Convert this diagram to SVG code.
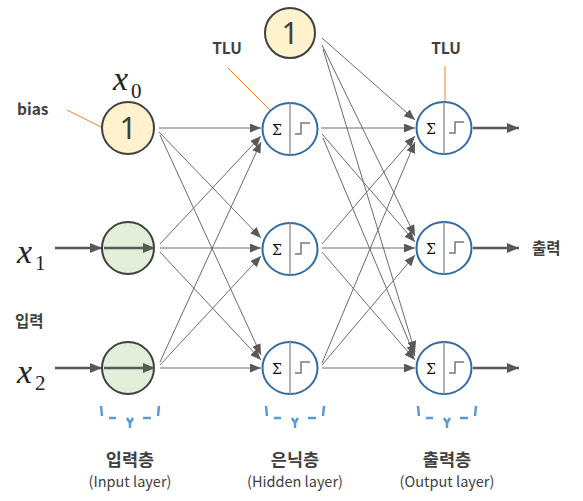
<svg xmlns="http://www.w3.org/2000/svg" width="583" height="501" viewBox="0 0 583 501">
<defs>
<marker id="ah" markerUnits="userSpaceOnUse" markerWidth="11" markerHeight="9" refX="11" refY="4.5" orient="auto"><path d="M0,0 L11,4.5 L0,9 z" fill="#595959"/></marker>
<marker id="ahb" markerUnits="userSpaceOnUse" markerWidth="12" markerHeight="10" refX="12" refY="5" orient="auto"><path d="M0,0 L12,5 L0,10 z" fill="#595959"/></marker>
</defs>
<style>
.e{stroke:#6b6b6b;stroke-width:1;fill:none;marker-end:url(#ah)}
.big{stroke:#595959;stroke-width:2.5;fill:none;marker-end:url(#ahb)}
.bias{fill:#FFF2CC;stroke:#404040;stroke-width:2}
.inp{fill:#E2EFDA;stroke:#404040;stroke-width:2}
.tlu{fill:#fff;stroke:#2F6AA3;stroke-width:2}
.div{stroke:#999;stroke-width:1.5}
.step{stroke:#777;stroke-width:1.5;fill:none}
.sig{font-family:"DejaVu Serif","Liberation Serif",serif;font-size:14px;fill:#111;text-anchor:middle}
.one{font-family:"Noto Sans","Liberation Sans",sans-serif;font-size:30px;fill:#404040;text-anchor:middle}
.lbl{font-family:"Noto Sans CJK KR","Noto Sans",sans-serif;font-weight:bold;font-size:15.5px;fill:#404040}
.kr{font-family:"Noto Sans CJK KR",sans-serif;font-weight:bold;font-size:17.5px;fill:#404040;text-anchor:middle}
.en{font-family:"Noto Sans CJK KR","Noto Sans",sans-serif;font-size:14.5px;fill:#404040;text-anchor:middle}
.mx{font-family:"Liberation Serif",serif;font-style:italic;font-size:34px;fill:#222}
.sub{font-family:"Liberation Serif",serif;font-size:21px;fill:#222}
.or{stroke:#ED7D31;stroke-width:1;fill:none}
.br{stroke:#5B9BD5;stroke-width:2.5;fill:none}
</style>

<g id="connectors">
<line class="e" x1="159" y1="128" x2="261" y2="128"/>
<line class="e" x1="159" y1="132" x2="261" y2="238"/>
<line class="e" x1="160" y1="135" x2="261" y2="355"/>
<line class="e" x1="160" y1="244" x2="261" y2="136"/>
<line class="e" x1="160" y1="248" x2="261" y2="248"/>
<line class="e" x1="160" y1="252" x2="261" y2="360"/>
<line class="e" x1="160" y1="362" x2="261" y2="142"/>
<line class="e" x1="160" y1="365" x2="261" y2="256"/>
<line class="e" x1="160" y1="368" x2="261" y2="368"/>

<line class="e" x1="321" y1="128" x2="415" y2="128"/>
<line class="e" x1="322" y1="134" x2="415" y2="242"/>
<line class="e" x1="323" y1="138" x2="415" y2="356"/>
<line class="e" x1="322" y1="244" x2="415" y2="136"/>
<line class="e" x1="322" y1="248" x2="415" y2="248"/>
<line class="e" x1="322" y1="252" x2="415" y2="360"/>
<line class="e" x1="322" y1="363" x2="415" y2="142"/>
<line class="e" x1="322" y1="365" x2="415" y2="255"/>
<line class="e" x1="322" y1="368" x2="415" y2="368"/>
<line class="e" x1="322" y1="38" x2="415" y2="120"/>
<line class="e" x1="322" y1="45" x2="415" y2="236"/>
<line class="e" x1="323" y1="49" x2="415" y2="352"/>

<line class="big" x1="55" y1="248" x2="102" y2="248"/>
<line class="big" x1="55" y1="368" x2="102" y2="368"/>
<line class="big" x1="473" y1="128" x2="519" y2="128"/>
<line class="big" x1="473" y1="248" x2="519" y2="248"/>
<line class="big" x1="473" y1="368" x2="519" y2="368"/>

<line class="or" x1="67" y1="110" x2="103" y2="128"/>
<line class="or" x1="228" y1="68" x2="270" y2="110"/>
<line class="or" x1="445" y1="66" x2="445" y2="102"/>
</g>

<g id="bias0"><circle class="bias" cx="128" cy="128" r="26"/><text class="one" x="128" y="139">1</text></g>
<g id="bias1"><circle class="bias" cx="290" cy="33" r="25"/><text class="one" x="290" y="44">1</text></g>
<g id="in1"><circle class="inp" cx="128" cy="248" r="26"/><line class="big" x1="104" y1="248" x2="155" y2="248"/></g>
<g id="in2"><circle class="inp" cx="128" cy="368" r="26"/><line class="big" x1="104" y1="368" x2="155" y2="368"/></g>

<g id="h1"><ellipse class="tlu" cx="290" cy="129" rx="27.5" ry="26"/><line class="div" x1="290" y1="103" x2="290" y2="155"/><text class="sig" x="277" y="135">Σ</text><path class="step" d="M295,134 H301 V123 H310"/></g>
<g id="h2"><ellipse class="tlu" cx="290" cy="249" rx="27.5" ry="26"/><line class="div" x1="290" y1="223" x2="290" y2="275"/><text class="sig" x="277" y="255">Σ</text><path class="step" d="M295,254 H301 V243 H310"/></g>
<g id="h3"><ellipse class="tlu" cx="290" cy="368" rx="27.5" ry="26"/><line class="div" x1="290" y1="342" x2="290" y2="394"/><text class="sig" x="277" y="374">Σ</text><path class="step" d="M295,373 H301 V362 H310"/></g>

<g id="o1"><ellipse class="tlu" cx="444" cy="128" rx="27.5" ry="26"/><line class="div" x1="444" y1="102" x2="444" y2="154"/><text class="sig" x="431" y="134">Σ</text><path class="step" d="M449,133 H455 V122 H464"/></g>
<g id="o2"><ellipse class="tlu" cx="444" cy="248" rx="27.5" ry="26"/><line class="div" x1="444" y1="222" x2="444" y2="274"/><text class="sig" x="431" y="254">Σ</text><path class="step" d="M449,253 H455 V242 H464"/></g>
<g id="o3"><ellipse class="tlu" cx="444" cy="368" rx="27.5" ry="26"/><line class="div" x1="444" y1="342" x2="444" y2="394"/><text class="sig" x="431" y="374">Σ</text><path class="step" d="M449,373 H455 V362 H464"/></g>

<g id="labels">
<text class="mx" x="113" y="90">x</text><text class="sub" x="131" y="98">0</text>
<text class="mx" x="17" y="263">x</text><text class="sub" x="35" y="270">1</text>
<text class="mx" x="17" y="383">x</text><text class="sub" x="35" y="390">2</text>
<text class="lbl" x="17" y="115">bias</text>
<text class="lbl" x="15" y="327">입력</text>
<text class="lbl" x="227" y="54" text-anchor="middle">TLU</text>
<text class="lbl" x="446" y="54" text-anchor="middle">TLU</text>
<text class="lbl" x="532" y="254" font-size="16">출력</text>
</g>

<g id="brackets">
<path class="br" d="M101,406 L102,416 M109,418 H116 M127,418 L130,423 L133,418 M130,423 V428 M143,418 H151 M159,406 L158,416"/>
<path class="br" d="M266,406 L267,416 M274,418 H281 M292,418 L295,423 L298,418 M295,423 V428 M308,418 H316 M324,406 L323,416"/>
<path class="br" d="M418,406 L419,416 M426,418 H433 M444,418 L447,423 L450,418 M447,423 V428 M460,418 H468 M476,406 L475,416"/>
</g>

<g id="layer-labels">
<text class="kr" x="130" y="466">입력층</text>
<text class="en" x="130" y="487">(Input layer)</text>
<text class="kr" x="295" y="466">은닉층</text>
<text class="en" x="295" y="487">(Hidden layer)</text>
<text class="kr" x="447" y="466">출력층</text>
<text class="en" x="447" y="487">(Output layer)</text>
</g>
</svg>
